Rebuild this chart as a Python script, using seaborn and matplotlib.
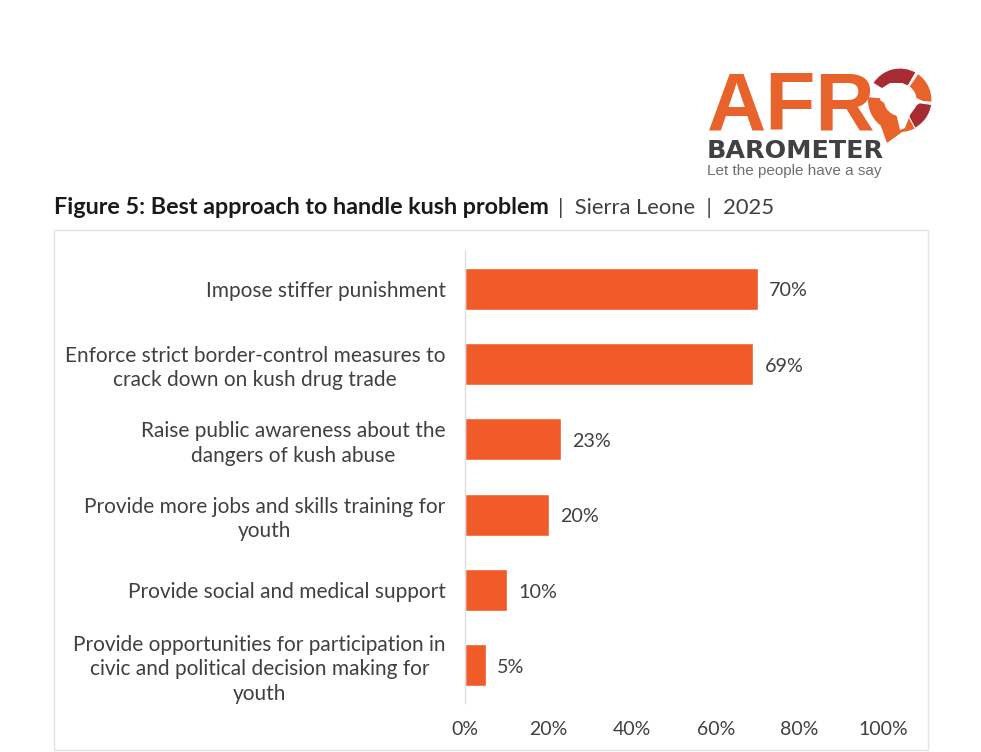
import pandas as pd
import matplotlib
matplotlib.use("Agg")
import matplotlib.pyplot as plt
from matplotlib.patches import Rectangle, Wedge, Polygon
import seaborn as sns

categories = [
    "Impose stiffer punishment",
    "Enforce strict border-control measures to\ncrack down on kush drug trade",
    "Raise public awareness about the\ndangers of kush abuse",
    "Provide more jobs and skills training for\nyouth",
    "Provide social and medical support",
    "Provide opportunities for participation in\ncivic and political decision making for\nyouth",
]
values = [70, 69, 23, 20, 10, 5]
x_ticks = [0, 20, 40, 60, 80, 100]

ORANGE = "#f15a29"
LOGO_ORANGE = "#e8632b"
LOGO_RED = "#a82a32"
TEXT = "#404040"
W, H = 981, 752

sns.set_theme(style="white")
plt.rcParams["font.family"] = ["Lato", "DejaVu Sans"]

fig = plt.figure(figsize=(W / 100, H / 100), dpi=100, facecolor="white")

# page layer in pixel coords: frame, title, logo
page = fig.add_axes([0, 0, 1, 1])
page.set_xlim(0, W)
page.set_ylim(H, 0)
page.axis("off")

page.add_patch(Rectangle((54, 230), 874, 520, fill=False, edgecolor="#e4e4e4", linewidth=1))
page.text(54, 208, "Figure 5: Best approach to handle kush problem", fontsize=16.8,
          fontweight="bold", color="#1a1a1a", va="center", ha="left")
page.text(558, 208, "|  Sierra Leone  |  2025", fontsize=15.8, color=TEXT, va="center", ha="left")

# logo, y axis is flipped here so wedge angles run clockwise on screen
page.text(707, 129, "AFR", fontsize=59, fontweight="bold", color=LOGO_ORANGE, va="baseline", ha="left",
          family="Liberation Sans")
page.add_patch(Wedge((900, 100), 32, 55, 185, width=16, facecolor=LOGO_ORANGE, edgecolor="none"))
page.add_patch(Wedge((900, 100), 32, -148, -60, width=16, facecolor=LOGO_RED, edgecolor="white", linewidth=0.8))
page.add_patch(Wedge((900, 100), 32, -56, 4, width=16, facecolor=LOGO_ORANGE, edgecolor="white", linewidth=0.8))
page.add_patch(Wedge((900, 100), 32, 8, 62, width=16, facecolor=LOGO_RED, edgecolor="white", linewidth=0.8))
page.add_patch(Polygon([(878, 118), (887, 143), (905, 130), (900, 118)], facecolor=LOGO_ORANGE, edgecolor="none"))
page.add_patch(Polygon([(882, 88), (890, 83), (903, 83), (908, 92), (914, 97), (923, 101), (917, 105),
                        (910, 115), (905, 128), (900, 130), (897, 117), (893, 107), (887, 105), (880, 100)],
                       facecolor="white", edgecolor="none"))
page.text(707, 158, "BAROMETER", fontsize=18.3, fontweight="bold", color="#414042", va="baseline", ha="left",
          family="DejaVu Sans")
page.text(707, 175, "Let the people have a say", fontsize=11, color="#6d6e71", va="baseline", ha="left",
          family="Liberation Sans")

# chart
df = pd.DataFrame({"approach": categories, "share": values})
ax = fig.add_axes([465 / W, 1 - 703 / H, (883 - 465) / W, (703 - 251) / H])
ax.patch.set_alpha(0)
sns.barplot(data=df, x="share", y="approach", color=ORANGE, width=0.56, saturation=1, ax=ax)
ax.set_xlim(0, 100)
ax.set_xlabel("")
ax.set_ylabel("")
ax.set_xticks(x_ticks)
ax.set_xticklabels([f"{t}%" for t in x_ticks])
ax.tick_params(axis="x", length=0, pad=13, labelsize=14, labelcolor=TEXT)
ax.tick_params(axis="y", length=0, pad=14, labelsize=15, labelcolor=TEXT)
for label in ax.get_yticklabels():
    label.set_multialignment("center")
    label.set_linespacing(1.27)
for side in ["top", "right", "bottom"]:
    ax.spines[side].set_visible(False)
ax.spines["left"].set_color("#dcdcdc")
ax.spines["left"].set_linewidth(1)

bar_texts = ax.bar_label(ax.containers[0], labels=[f"{v}%" for v in values], padding=8, fontsize=14.2, color=TEXT)
for t in bar_texts:
    t.xyann = (8, -1.5)

fig.savefig("out.png", dpi=100)
